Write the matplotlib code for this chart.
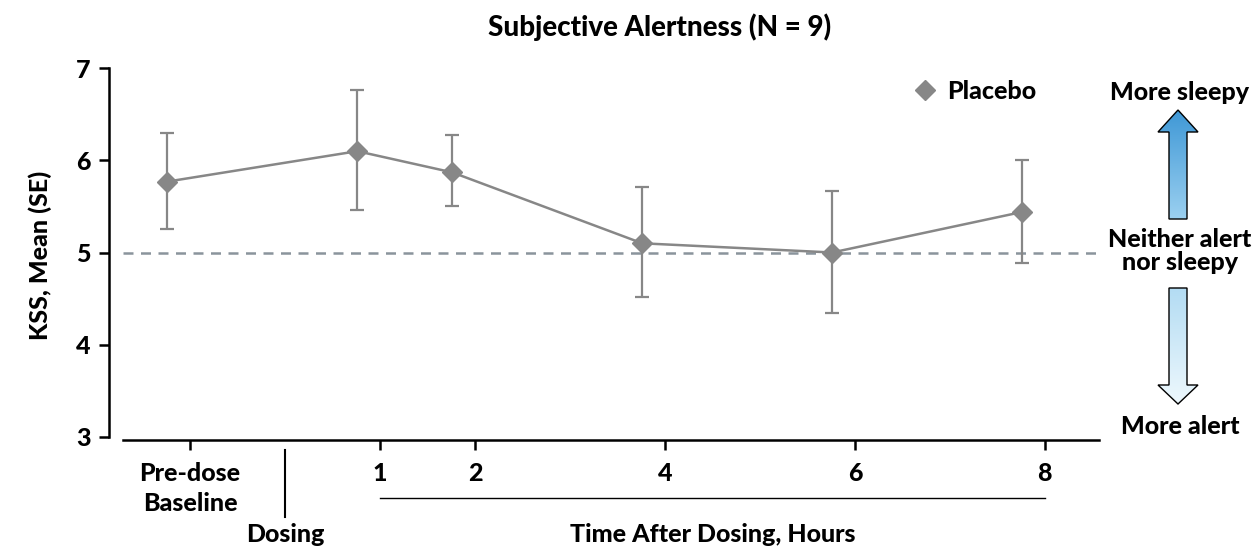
import numpy as np
import matplotlib
matplotlib.use("Agg")
import matplotlib.pyplot as plt
import matplotlib.transforms as mtransforms
from matplotlib.patches import Polygon
from matplotlib.colors import LinearSegmentedColormap

plt.rcParams['font.family'] = ['Lato', 'DejaVu Sans']
WT = 'black'
plt.rcParams['font.weight'] = WT

# data (placebo, KSS mean and SE bounds)
hours = [-1, 1, 2, 4, 6, 8]
offset = -0.24
kss_mean = [5.77, 6.10, 5.87, 5.10, 5.00, 5.44]
err_hi = [6.30, 6.76, 6.28, 5.71, 5.67, 6.00]
err_lo = [5.25, 5.46, 5.51, 4.52, 4.34, 4.89]
tick_pos = [-1, 1, 2, 4, 6, 8]
tick_lbl = ['Pre-dose\nBaseline', '1', '2', '4', '6', '8']

W, H = 1257, 548
FS = 18
fig = plt.figure(figsize=(W / 100, H / 100), dpi=100)
ax = fig.add_axes([122.7 / W, 1 - 440 / H, (1099 - 122.7) / W, (440 - 68.3) / H])

x = np.array(hours) + offset
y = np.array(kss_mean)
yerr = [y - np.array(err_lo), np.array(err_hi) - y]
gray = '#878787'
ax.errorbar(x, y, yerr=yerr, fmt='none', ecolor=gray, elinewidth=1.6,
            capsize=5, capthick=1.6, zorder=3)
ax.plot(x, y, '-', color=gray, lw=1.8, zorder=4)
ax.plot(x, y, 'D', color=gray, ms=10.5, mec=gray, zorder=5, label='Placebo')
ax.axhline(5, color='#8a949c', lw=1.8, ls=(0, (4, 3)), zorder=2)

ax.set_xlim(-1.71, 8.57)
ax.set_ylim(3 - 3.3 / 92.1, 7.0)
ax.spines['top'].set_visible(False)
ax.spines['right'].set_visible(False)
ax.spines['left'].set_position(('outward', 10))
ax.spines['left'].set_bounds(3, 7)
ax.spines['left'].set_linewidth(1.8)
ax.spines['bottom'].set_linewidth(1.8)
ax.set_yticks([3, 4, 5, 6, 7])
ax.set_yticklabels(['3', '4', '5', '6', '7'], fontweight=WT)
ax.set_xticks(tick_pos)
ax.set_xticklabels(tick_lbl, linespacing=1.35, va='top', fontweight=WT)
ax.tick_params(axis='both', length=7, width=1.8, labelsize=FS)
ax.tick_params(axis='x', pad=9)
ax.tick_params(axis='y', pad=6)

leg = ax.legend(loc='upper left', bbox_to_anchor=(0.786, 1.03), frameon=False,
                handlelength=1.0, handletextpad=0.4, prop={'size': FS, 'weight': WT})

fig.text(660 / W, 1 - 27 / H, 'Subjective Alertness (N = 9)', ha='center', va='center',
         fontsize=FS + 2, fontweight=WT)
fig.text(40 / W, 1 - 255 / H, 'KSS, Mean (SE)', rotation=90, ha='center', va='center',
         fontsize=FS, fontweight=WT)

# lower annotations
tr = mtransforms.blended_transform_factory(ax.transData, fig.transFigure)
ax.plot([0, 0], [1 - 450 / H, 1 - 517 / H], color='black', lw=1.5, transform=tr, clip_on=False)
ax.plot([1, 8], [1 - 498 / H, 1 - 498 / H], color='black', lw=1.0, transform=tr, clip_on=False)
ax.text(0, 1 - 534 / H, 'Dosing', transform=tr, ha='center', va='center', fontsize=FS, fontweight=WT)
ax.text(4.5, 1 - 534 / H, 'Time After Dosing, Hours', transform=tr, ha='center', va='center',
        fontsize=FS, fontweight=WT)

# right side scale arrows
ov = fig.add_axes([0, 0, 1, 1])
ov.set_xlim(0, W)
ov.set_ylim(H, 0)
ov.axis('off')
ov.patch.set_alpha(0)

def grad_arrow(pts, c_top, c_bot):
    pts = np.array(pts, dtype=float)
    poly = Polygon(pts, closed=True, facecolor='none', edgecolor='black', lw=1.0, zorder=3)
    ov.add_patch(poly)
    cmap = LinearSegmentedColormap.from_list('g', [c_top, c_bot])
    grad = np.linspace(0, 1, 256).reshape(-1, 1)
    x0, x1 = pts[:, 0].min(), pts[:, 0].max()
    y0, y1 = pts[:, 1].min(), pts[:, 1].max()
    im = ov.imshow(grad, cmap=cmap, aspect='auto', extent=[x0, x1, y1, y0], zorder=2)
    im.set_clip_path(poly)

cx = 1178
grad_arrow([(cx, 110), (cx + 20, 132), (cx + 9, 132), (cx + 9, 219), (cx - 9, 219),
            (cx - 9, 132), (cx - 20, 132)], '#3f98d6', '#9bd0f0')
grad_arrow([(cx - 9, 288), (cx + 9, 288), (cx + 9, 385), (cx + 20, 385), (cx, 404),
            (cx - 20, 385), (cx - 9, 385)], '#b3dcf3', '#eef8fd')
ov.text(cx + 2, 92, 'More sleepy', ha='center', va='center', fontsize=FS, fontweight=WT)
ov.text(cx + 2, 251, 'Neither alert\nnor sleepy', ha='center', va='center', fontsize=FS,
        fontweight=WT, linespacing=1.05)
ov.text(cx + 2, 427, 'More alert', ha='center', va='center', fontsize=FS, fontweight=WT)

fig.savefig('out.png', dpi=100)
